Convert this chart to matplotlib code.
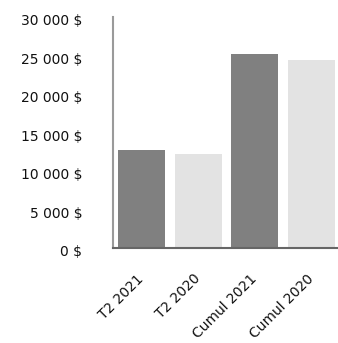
import matplotlib
matplotlib.use("Agg")
import matplotlib.pyplot as plt
import matplotlib.transforms as mtransforms

# Revenue figures, quarter vs cumulative
categories = ["T2 2021", "T2 2020", "Cumul 2021", "Cumul 2020"]
values = [12700, 12200, 25200, 24400]
colors = ["#808080", "#e3e3e3", "#808080", "#e3e3e3"]
yticks = [0, 5000, 10000, 15000, 20000, 25000, 30000]
ytick_labels = ["0 $", "5 000 $", "10 000 $", "15 000 $", "20 000 $", "25 000 $", "30 000 $"]

plt.rcParams["font.family"] = "DejaVu Sans"

fig = plt.figure(figsize=(3.38, 3.43), dpi=100)
ax = fig.add_axes([113 / 338, 1 - 248 / 343, 1 - 113 / 338, (248 - 16.7) / 343])

x = range(len(categories))
ax.bar(x, values, width=0.83, color=colors, zorder=2)

ax.set_xlim(-0.5, 3.466)
ax.set_ylim(0, 30000)
ax.set_yticks(yticks)
ax.set_yticklabels(ytick_labels, fontsize=10, color="#111111")
ax.set_xticks(list(x))
ax.set_xticklabels(categories, fontsize=10, color="#111111",
                   rotation=45, ha="right", rotation_mode="anchor")

ax.tick_params(axis="y", length=0, pad=22)
ax.tick_params(axis="x", length=0, pad=17)

# nudge y labels down a little
offset = mtransforms.ScaledTranslation(0, -3 / 100, fig.dpi_scale_trans)
for lab in ax.get_yticklabels():
    lab.set_transform(lab.get_transform() + offset)
# and x labels a bit to the left
xoff = mtransforms.ScaledTranslation(-5 / 100, 0, fig.dpi_scale_trans)
for lab in ax.get_xticklabels():
    lab.set_transform(lab.get_transform() + xoff)

for side in ("top", "right"):
    ax.spines[side].set_visible(False)
ax.spines["left"].set_color("#9a9a9a")
ax.spines["left"].set_linewidth(1.5)
ax.spines["bottom"].set_color("#666666")
ax.spines["bottom"].set_linewidth(1.5)

fig.savefig("out.png", dpi=100)
